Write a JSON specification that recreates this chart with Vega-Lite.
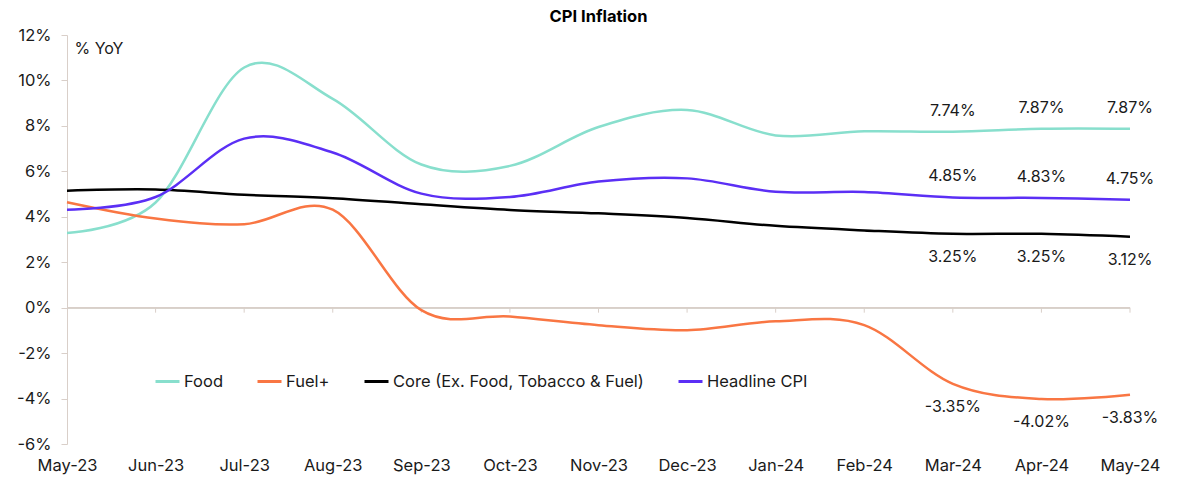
{
  "$schema": "https://vega.github.io/schema/vega-lite/v6.json",
  "width": 1063,
  "height": 409,
  "autosize": {"type": "none"},
  "padding": {"left": 67, "top": 35, "right": 53, "bottom": 43},
  "config": {"font": "Inter", "view": {"stroke": null}},
  "title": {"text": "CPI Inflation", "fontSize": 16.5, "fontWeight": "bold", "color": "#000000", "frame": "group", "anchor": "middle", "offset": 2},
  "data": {"values": [
    {"month": "May-23", "series": "Food", "value": 3.29},
    {"month": "Jun-23", "series": "Food", "value": 4.63},
    {"month": "Jul-23", "series": "Food", "value": 10.57},
    {"month": "Aug-23", "series": "Food", "value": 9.19},
    {"month": "Sep-23", "series": "Food", "value": 6.30},
    {"month": "Oct-23", "series": "Food", "value": 6.24},
    {"month": "Nov-23", "series": "Food", "value": 7.95},
    {"month": "Dec-23", "series": "Food", "value": 8.70},
    {"month": "Jan-24", "series": "Food", "value": 7.58},
    {"month": "Feb-24", "series": "Food", "value": 7.76},
    {"month": "Mar-24", "series": "Food", "value": 7.74},
    {"month": "Apr-24", "series": "Food", "value": 7.87},
    {"month": "May-24", "series": "Food", "value": 7.87},
    {"month": "May-23", "series": "Fuel+", "value": 4.64},
    {"month": "Jun-23", "series": "Fuel+", "value": 3.92},
    {"month": "Jul-23", "series": "Fuel+", "value": 3.67},
    {"month": "Aug-23", "series": "Fuel+", "value": 4.31},
    {"month": "Sep-23", "series": "Fuel+", "value": -0.11},
    {"month": "Oct-23", "series": "Fuel+", "value": -0.39},
    {"month": "Nov-23", "series": "Fuel+", "value": -0.77},
    {"month": "Dec-23", "series": "Fuel+", "value": -0.99},
    {"month": "Jan-24", "series": "Fuel+", "value": -0.60},
    {"month": "Feb-24", "series": "Fuel+", "value": -0.77},
    {"month": "Mar-24", "series": "Fuel+", "value": -3.35},
    {"month": "Apr-24", "series": "Fuel+", "value": -4.02},
    {"month": "May-24", "series": "Fuel+", "value": -3.83},
    {"month": "May-23", "series": "Core (Ex. Food, Tobacco & Fuel)", "value": 5.15},
    {"month": "Jun-23", "series": "Core (Ex. Food, Tobacco & Fuel)", "value": 5.2},
    {"month": "Jul-23", "series": "Core (Ex. Food, Tobacco & Fuel)", "value": 4.97},
    {"month": "Aug-23", "series": "Core (Ex. Food, Tobacco & Fuel)", "value": 4.82},
    {"month": "Sep-23", "series": "Core (Ex. Food, Tobacco & Fuel)", "value": 4.55},
    {"month": "Oct-23", "series": "Core (Ex. Food, Tobacco & Fuel)", "value": 4.3},
    {"month": "Nov-23", "series": "Core (Ex. Food, Tobacco & Fuel)", "value": 4.15},
    {"month": "Dec-23", "series": "Core (Ex. Food, Tobacco & Fuel)", "value": 3.95},
    {"month": "Jan-24", "series": "Core (Ex. Food, Tobacco & Fuel)", "value": 3.6},
    {"month": "Feb-24", "series": "Core (Ex. Food, Tobacco & Fuel)", "value": 3.4},
    {"month": "Mar-24", "series": "Core (Ex. Food, Tobacco & Fuel)", "value": 3.25},
    {"month": "Apr-24", "series": "Core (Ex. Food, Tobacco & Fuel)", "value": 3.25},
    {"month": "May-24", "series": "Core (Ex. Food, Tobacco & Fuel)", "value": 3.12},
    {"month": "May-23", "series": "Headline CPI", "value": 4.31},
    {"month": "Jun-23", "series": "Headline CPI", "value": 4.87},
    {"month": "Jul-23", "series": "Headline CPI", "value": 7.44},
    {"month": "Aug-23", "series": "Headline CPI", "value": 6.83},
    {"month": "Sep-23", "series": "Headline CPI", "value": 5.02},
    {"month": "Oct-23", "series": "Headline CPI", "value": 4.87},
    {"month": "Nov-23", "series": "Headline CPI", "value": 5.55},
    {"month": "Dec-23", "series": "Headline CPI", "value": 5.69},
    {"month": "Jan-24", "series": "Headline CPI", "value": 5.10},
    {"month": "Feb-24", "series": "Headline CPI", "value": 5.09},
    {"month": "Mar-24", "series": "Headline CPI", "value": 4.85},
    {"month": "Apr-24", "series": "Headline CPI", "value": 4.83},
    {"month": "May-24", "series": "Headline CPI", "value": 4.75}
  ]},
  "layer": [
    {
      "mark": {"type": "rule", "color": "#d9cfc9", "strokeWidth": 1},
      "encoding": {"y": {"datum": 0, "type": "quantitative"}}
    },
    {
      "transform": [{"filter": "datum.series == 'Food' && datum.month != 'May-23'"}],
      "mark": {"type": "rule", "color": "#d9cfc9", "strokeWidth": 1},
      "encoding": {
        "x": {"field": "month", "type": "ordinal"},
        "y": {"datum": 0, "type": "quantitative"},
        "y2": {"datum": -0.22}
      }
    },
    {
      "mark": {"type": "line", "interpolate": "cardinal", "tension": 0, "strokeWidth": 2.5},
      "encoding": {
        "x": {
          "field": "month", "type": "ordinal",
          "scale": {"type": "point", "padding": 0, "domain": ["May-23","Jun-23","Jul-23","Aug-23","Sep-23","Oct-23","Nov-23","Dec-23","Jan-24","Feb-24","Mar-24","Apr-24","May-24"]},
          "axis": {"title": null, "domain": false, "ticks": false, "labelPadding": 21, "labelFontSize": 16.5, "labelAngle": 0, "labelAlign": "center", "labelBaseline": "middle", "labelColor": "#1a1a1a", "labelOverlap": false, "labelBound": false, "labelFlush": false}
        },
        "y": {
          "field": "value", "type": "quantitative",
          "scale": {"domain": [-6, 12], "nice": false, "zero": false},
          "axis": {
            "values": [-6, -4, -2, 0, 2, 4, 6, 8, 10, 12],
            "labelExpr": "datum.value + '%'",
            "grid": false,
            "domainColor": "#d9cfc9", "tickColor": "#d9cfc9", "tickSize": 6,
            "labelPadding": 10, "labelFontSize": 16.5, "labelColor": "#1a1a1a",
            "title": "% YoY", "titleAngle": 0, "titleAlign": "left", "titleBaseline": "middle",
            "titleX": 7, "titleY": 13, "titleFontSize": 16, "titleFontWeight": "normal", "titleColor": "#1a1a1a"
          }
        },
        "color": {
          "field": "series", "type": "nominal",
          "scale": {"domain": ["Food", "Fuel+", "Core (Ex. Food, Tobacco & Fuel)", "Headline CPI"], "range": ["#88dfcd", "#f97643", "#000000", "#5b2ff5"]},
          "legend": {
            "title": null, "orient": "none", "legendX": 87, "legendY": 333, "direction": "horizontal",
            "symbolType": "stroke", "symbolSize": 576, "symbolStrokeWidth": 3,
            "labelFontSize": 16.5, "labelColor": "#1a1a1a", "labelOffset": 3, "columnPadding": 28, "labelLimit": 400
          }
        }
      }
    },
    {
      "transform": [
        {"filter": "(datum.month == 'Mar-24' || datum.month == 'Apr-24' || datum.month == 'May-24') && (datum.series == 'Food' || datum.series == 'Headline CPI')"},
        {"calculate": "datum.value + '%'", "as": "label"}
      ],
      "mark": {"type": "text", "dy": -21, "fontSize": 16, "color": "#1a1a1a", "align": "center", "baseline": "middle"},
      "encoding": {
        "x": {"field": "month", "type": "ordinal"},
        "y": {"field": "value", "type": "quantitative"},
        "text": {"field": "label"}
      }
    },
    {
      "transform": [
        {"filter": "(datum.month == 'Mar-24' || datum.month == 'Apr-24' || datum.month == 'May-24') && (datum.series == 'Fuel+' || datum.series == 'Core (Ex. Food, Tobacco & Fuel)')"},
        {"calculate": "datum.value + '%'", "as": "label"}
      ],
      "mark": {"type": "text", "dy": 23, "fontSize": 16, "color": "#1a1a1a", "align": "center", "baseline": "middle"},
      "encoding": {
        "x": {"field": "month", "type": "ordinal"},
        "y": {"field": "value", "type": "quantitative"},
        "text": {"field": "label"}
      }
    }
  ]
}
